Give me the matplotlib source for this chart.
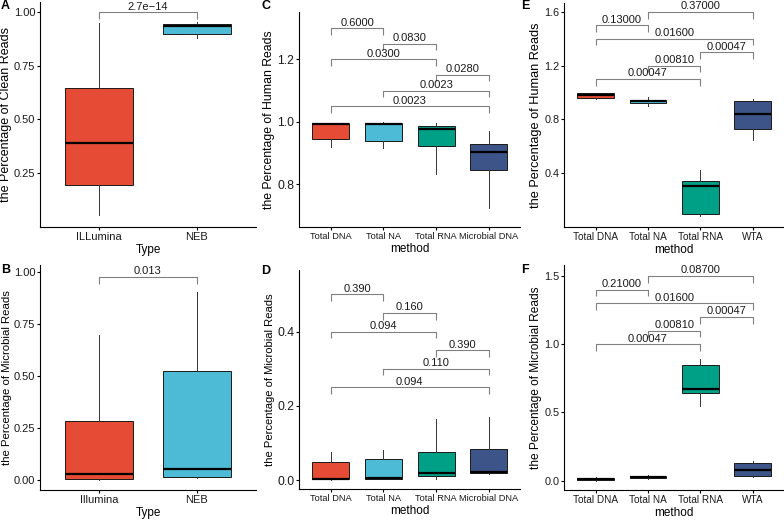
import matplotlib
matplotlib.use("Agg")
import matplotlib.pyplot as plt
from matplotlib.ticker import FormatStrFormatter

plt.rcParams['font.family'] = ['Liberation Sans', 'DejaVu Sans']

# ggsci NPG palette
NPG = ['#E64B35', '#4DBBD5', '#00A087', '#3C5488']

# ---- Panel A: clean reads by library type
a_types = ['ILLumina', 'NEB']
a_low = [0.055, 0.880]
a_q1 = [0.195, 0.898]
a_med = [0.390, 0.935]
a_q3 = [0.648, 0.945]
a_high = [0.950, 0.955]
a_pairs = [(1, 2)]
a_bar_y = [1.00]
a_pvals = ['2.7e\u221214']

# ---- Panel B: microbial reads by library type
b_types = ['Illumina', 'NEB']
b_low = [0.000, 0.010]
b_q1 = [0.005, 0.015]
b_med = [0.028, 0.052]
b_q3 = [0.285, 0.525]
b_high = [0.695, 0.900]
b_pairs = [(1, 2)]
b_bar_y = [0.975]
b_pvals = ['0.013']

# ---- Panel C: human reads by method
c_methods = ['Total DNA', 'Total NA', 'Total RNA', 'Microbial DNA']
c_low = [0.920, 0.915, 0.833, 0.723]
c_q1 = [0.945, 0.940, 0.922, 0.846]
c_med = [0.993, 0.993, 0.976, 0.902]
c_q3 = [0.996, 0.997, 0.987, 0.930]
c_high = [0.997, 0.999, 0.997, 0.972]
c_pairs = [(1, 2), (2, 3), (1, 3), (3, 4), (2, 4), (1, 4)]
c_bar_y = [1.30, 1.25, 1.20, 1.15, 1.10, 1.05]
c_pvals = ['0.6000', '0.0830', '0.0300', '0.0280', '0.0023', '0.0023']

# ---- Panel D: microbial reads by method
d_methods = ['Total DNA', 'Total NA', 'Total RNA', 'Microbial DNA']
d_low = [0.000, 0.002, 0.004, 0.015]
d_q1 = [0.002, 0.003, 0.010, 0.020]
d_med = [0.004, 0.005, 0.018, 0.022]
d_q3 = [0.049, 0.056, 0.075, 0.083]
d_high = [0.075, 0.080, 0.165, 0.170]
d_pairs = [(1, 2), (2, 3), (1, 3), (3, 4), (2, 4), (1, 4)]
d_bar_y = [0.50, 0.45, 0.40, 0.35, 0.30, 0.25]
d_pvals = ['0.390', '0.160', '0.094', '0.390', '0.110', '0.094']

# ---- Panel E: human reads, WTA comparison
e_methods = ['Total DNA', 'Total NA', 'Total RNA', 'WTA']
e_low = [0.950, 0.900, 0.076, 0.641]
e_q1 = [0.957, 0.917, 0.094, 0.725]
e_med = [0.980, 0.932, 0.300, 0.835]
e_q3 = [0.992, 0.944, 0.337, 0.934]
e_high = [0.995, 0.962, 0.419, 0.949]
e_pairs = [(2, 4), (1, 2), (1, 4), (3, 4), (2, 3), (1, 3)]
e_bar_y = [1.60, 1.50, 1.40, 1.30, 1.20, 1.10]
e_pvals = ['0.37000', '0.13000', '0.01600', '0.00047', '0.00810', '0.00047']

# ---- Panel F: microbial reads, WTA comparison
f_methods = ['Total DNA', 'Total NA', 'Total RNA', 'WTA']
f_low = [0.000, 0.015, 0.550, 0.024]
f_q1 = [0.003, 0.020, 0.640, 0.034]
f_med = [0.012, 0.027, 0.672, 0.081]
f_q3 = [0.022, 0.034, 0.848, 0.132]
f_high = [0.025, 0.044, 0.890, 0.147]
f_pairs = [(2, 4), (1, 2), (1, 4), (3, 4), (2, 3), (1, 3)]
f_bar_y = [1.50, 1.40, 1.30, 1.20, 1.10, 1.00]
f_pvals = ['0.08700', '0.21000', '0.01600', '0.00047', '0.00810', '0.00047']

W, H = 784, 520
fig = plt.figure(figsize=(W / 100, H / 100), dpi=100)


def add_axes(left, top, width, bottom):
    return fig.add_axes([left / W, 1 - bottom / H, width / W, (bottom - top) / H])


def panel(ax, cats, low, q1, med, q3, high, pairs, bar_y, pvals,
          ylim, yticks, fmt, ylabel, xlabel, letter, letter_xy,
          ytick_fs, xtick_fs, ylab_fs, xlab_fs):
    stats = []
    for i, c in enumerate(cats):
        stats.append(dict(label=c, whislo=low[i], q1=q1[i], med=med[i],
                          q3=q3[i], whishi=high[i], fliers=[]))
    pos = list(range(1, len(cats) + 1))
    bp = ax.bxp(stats, positions=pos, widths=0.7, patch_artist=True,
                showcaps=False, showfliers=False,
                boxprops=dict(edgecolor='#1a1a1a', linewidth=0.7),
                medianprops=dict(color='black', linewidth=1.6),
                whiskerprops=dict(color='#333333', linewidth=0.7))
    for patch, col in zip(bp['boxes'], NPG):
        patch.set_facecolor(col)

    # significance brackets
    tip = 0.03 * (ylim[1] - ylim[0])
    for (i, j), y, p in zip(pairs, bar_y, pvals):
        ax.plot([i, i, j, j], [y - tip, y, y, y - tip], color='#808080',
                linewidth=0.8, solid_capstyle='butt', zorder=3)
        ax.annotate(p, xy=((i + j) / 2, y), xytext=(0, 0.4),
                    textcoords='offset points', ha='center', va='bottom',
                    fontsize=8, color='#1a1a1a')

    ax.set_xlim(0.4, len(cats) + 0.6)
    ax.set_ylim(*ylim)
    ax.set_yticks(yticks)
    ax.yaxis.set_major_formatter(FormatStrFormatter(fmt))
    ax.set_xticks(pos)
    ax.set_xticklabels(cats, fontsize=xtick_fs)
    ax.spines['top'].set_visible(False)
    ax.spines['right'].set_visible(False)
    for s in ('left', 'bottom'):
        ax.spines[s].set_linewidth(0.8)
    ax.tick_params(axis='both', length=2, width=0.8,
                   labelcolor='#1a1a1a', pad=1.5)
    ax.tick_params(axis='y', labelsize=ytick_fs)
    ax.set_ylabel(ylabel, fontsize=ylab_fs, labelpad=1.5)
    ax.set_xlabel(xlabel, fontsize=xlab_fs, labelpad=1.5)
    fig.text(letter_xy[0] / W, 1 - letter_xy[1] / H, letter, fontsize=9,
             fontweight='bold', va='top', ha='left')


axA = add_axes(40.2, 2, 215.6, 227)
axB = add_axes(40.2, 264.7, 215.6, 490)
axC = add_axes(299.1, 12, 221.3, 226.7)
axD = add_axes(299.1, 270, 221.3, 489.3)
axE = add_axes(564.3, 3, 219.7, 226.7)
axF = add_axes(564.3, 265, 219.7, 490)

panel(axA, a_types, a_low, a_q1, a_med, a_q3, a_high, a_pairs, a_bar_y, a_pvals,
      (-0.0015, 1.047), [0.25, 0.50, 0.75, 1.00], '%.2f',
      'the Percentage of Clean Reads', 'Type', 'A', (1, 0),
      8, 8, 9, 8.5)
panel(axB, b_types, b_low, b_q1, b_med, b_q3, b_high, b_pairs, b_bar_y, b_pvals,
      (-0.048, 1.033), [0.00, 0.25, 0.50, 0.75, 1.00], '%.2f',
      'the Percentage of Microbial Reads', 'Type', 'B', (1, 264),
      8, 8, 8.2, 8.5)
panel(axC, c_methods, c_low, c_q1, c_med, c_q3, c_high, c_pairs, c_bar_y, c_pvals,
      (0.664, 1.352), [0.8, 1.0, 1.2], '%.1f',
      'the Percentage of Human Reads', 'method', 'C', (261, 0),
      8.8, 6.7, 8.8, 8.5)
panel(axD, d_methods, d_low, d_q1, d_med, d_q3, d_high, d_pairs, d_bar_y, d_pvals,
      (-0.025, 0.566), [0.0, 0.2, 0.4], '%.1f',
      'the Percentage of Microbial Reads', 'method', 'D', (261, 265),
      8.8, 6.7, 8.1, 8.5)
panel(axE, e_methods, e_low, e_q1, e_med, e_q3, e_high, e_pairs, e_bar_y, e_pvals,
      (-0.003, 1.667), [0.4, 0.8, 1.2, 1.6], '%.1f',
      'the Percentage of Human Reads', 'method', 'E', (521, 0),
      7.8, 7.2, 9.2, 8.5)
panel(axF, f_methods, f_low, f_q1, f_med, f_q3, f_high, f_pairs, f_bar_y, f_pvals,
      (-0.068, 1.581), [0.0, 0.5, 1.0, 1.5], '%.1f',
      'the Percentage of Microbial Reads', 'method', 'F', (521, 264),
      7.8, 7.2, 8.6, 8.5)

fig.savefig('out.png', dpi=100)
